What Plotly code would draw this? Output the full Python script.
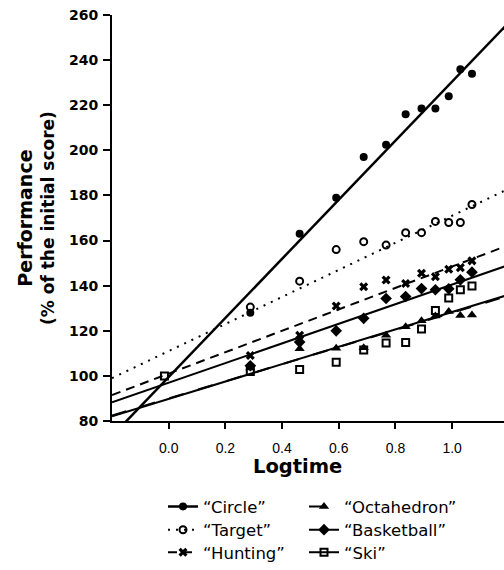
import plotly.graph_objects as go

# ---- data ----
logtime = [-0.015, 0.288, 0.462, 0.591, 0.688, 0.767, 0.836, 0.892, 0.941, 0.988, 1.029, 1.070]

# only the "Ski" marker is visible at the first session (100 %)
circle     = [None, 128.0, 163.0, 179.0, 197.0, 202.5, 216.0, 218.5, 218.5, 224.0, 236.0, 234.0]
target     = [None, 130.5, 142.0, 156.0, 159.5, 158.0, 163.5, 163.5, 168.5, 168.0, 168.0, 176.0]
hunting    = [None, 109.0, 118.0, 131.0, 139.5, 142.5, 141.0, 145.5, 144.0, 147.3, 148.0, 151.0]
octahedron = [None, 103.5, 112.0, 112.3, 112.5, 118.0, 121.8, 124.5, 126.6, 128.6, 126.8, 127.0]
basketball = [None, 104.5, 115.0, 120.0, 125.5, 134.3, 135.2, 138.7, 138.2, 138.6, 142.6, 146.0]
ski        = [100, 102.0, 102.8, 106.1, 111.5, 114.6, 114.8, 120.8, 129.0, 134.5, 138.2, 139.8]

series_names = ["“Circle”", "“Target”", "“Hunting”", "“Octahedron”", "“Basketball”", "“Ski”"]
series_vals = [circle, target, hunting, octahedron, basketball, ski]
fit_intercept = [99.5, 111.0, 101.0, 90.0, 97.0, 89.8]
fit_slope = [131.0, 60.0, 47.5, 38.0, 43.5, 38.5]

x_ticks = [0.0, 0.2, 0.4, 0.6, 0.8, 1.0]
x_tick_labels = ["0.0", "0.2", "0.4", "0.6", "0.8", "1.0"]
y_ticks = [80, 100, 120, 140, 160, 180, 200, 220, 240, 260]

x_range = [-0.2, 1.183]
y_range = [80, 260]

# ---- styles ----
markers = [
    dict(symbol="circle", size=8, color="black"),
    dict(symbol="circle-open", size=7, color="black", line=dict(width=2, color="black")),
    dict(symbol="x", size=8, color="black", line=dict(width=0)),
    dict(symbol="triangle-up", size=9, color="black"),
    dict(symbol="diamond", size=9, color="black"),
    dict(symbol="square-open", size=7, color="black", line=dict(width=2, color="black")),
]
lines = [
    dict(color="black", width=2.5, dash="solid"),
    dict(color="black", width=2, dash="2px,6px"),
    dict(color="black", width=2, dash="9px,6px"),
    dict(color="black", width=2, dash="longdash"),
    dict(color="black", width=2, dash="solid"),
    dict(color="black", width=2, dash="solid"),
]

W, H = 504, 570
L, R, T, B = 112, 0, 15, 148
pw, ph = W - L - R, H - T - B

def px2x(p):
    return (p - L) / pw

def px2y(p):
    return (H - B - p) / ph

legend_pos = [(163, 506.7), (163, 530.0), (163, 553.3),
              (304, 506.7), (304, 530.0), (304, 553.3)]

fig = go.Figure()

for i, (name, vals) in enumerate(zip(series_names, series_vals)):
    xs = [x_range[0], 1.2]
    ys = [fit_intercept[i] + fit_slope[i] * x for x in xs]
    fig.add_trace(go.Scatter(x=xs, y=ys, mode="lines", line=lines[i],
                             showlegend=False, hoverinfo="skip"))

for i in range(len(series_vals)):
    fig.add_trace(go.Scatter(x=logtime, y=series_vals[i], mode="markers",
                             marker=markers[i], showlegend=False, name=series_names[i]))

for i, name in enumerate(series_names):
    lg = "legend" if i == 0 else f"legend{i+1}"
    fig.add_trace(go.Scatter(x=[None], y=[None], mode="lines+markers", name=name,
                             marker=markers[i], line=lines[i], legend=lg, showlegend=True))

legend_common = dict(font=dict(family="DejaVu Sans", size=16.5, color="black"),
                     bgcolor="rgba(0,0,0,0)", borderwidth=0, itemwidth=30,
                     xanchor="left", yanchor="middle", tracegroupgap=0)
layout_legends = {}
for i, (lx, ly) in enumerate(legend_pos):
    key = "legend" if i == 0 else f"legend{i+1}"
    layout_legends[key] = dict(x=px2x(lx), y=px2y(ly), **legend_common)

fig.update_layout(
    width=W, height=H,
    margin=dict(l=L, r=R, t=T, b=B),
    paper_bgcolor="white", plot_bgcolor="white",
    **layout_legends,
    xaxis=dict(range=x_range, tickvals=x_ticks, ticktext=x_tick_labels,
               showgrid=False, zeroline=False, showline=True, linecolor="black",
               linewidth=2, ticks="outside", ticklen=6, tickwidth=1.5, tickcolor="black",
               ticklabelstandoff=7,
               tickfont=dict(family="Liberation Sans", size=14, color="black")),
    yaxis=dict(range=y_range, tickvals=y_ticks, showgrid=False, zeroline=False,
               showline=True, linecolor="black", linewidth=2, ticks="outside",
               ticklen=7, tickwidth=1.5, tickcolor="black", ticklabelstandoff=2,
               tickfont=dict(family="DejaVu Sans", size=14, color="black", weight="bold")),
    annotations=[
        dict(text="Logtime", x=px2x(297.5), y=px2y(468), xref="paper", yref="paper",
             showarrow=False, xanchor="center", yanchor="middle",
             font=dict(family="DejaVu Sans", size=19.5, color="black", weight="bold")),
        dict(text='<span style="font-size:19px">Performance</span><br>(% of the initial score)',
             x=px2x(36), y=px2y(218.5), xref="paper", yref="paper", textangle=-90,
             showarrow=False, xanchor="center", yanchor="middle",
             font=dict(family="DejaVu Sans", size=17, color="black", weight="bold")),
    ],
)

fig.write_html("out.html")
